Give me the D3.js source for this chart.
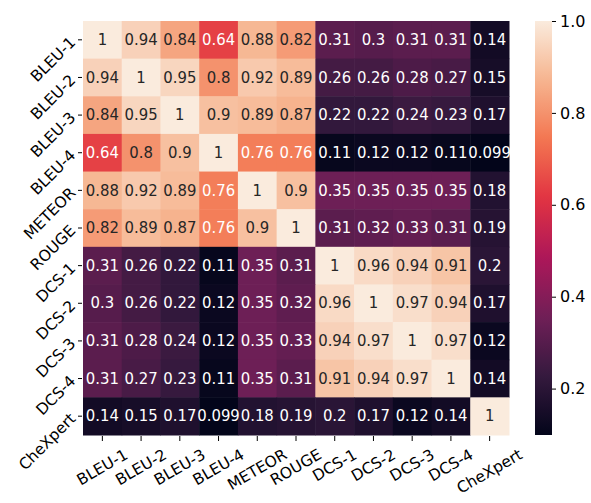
<!DOCTYPE html>
<html lang="en">
<head>
<meta charset="UTF-8">
<title>Metric correlation heatmap</title>
<script src="https://d3js.org/d3.v7.min.js"></script>
<style>
  body { margin: 0; background: #fff; }
  svg { font-family: "DejaVu Sans", sans-serif; }
</style>
</head>
<body>
<div id="chart"></div>
<script>
// metric names (rows and columns)
const metrics = ["BLEU-1", "BLEU-2", "BLEU-3", "BLEU-4", "METEOR", "ROUGE",
                 "DCS-1", "DCS-2", "DCS-3", "DCS-4", "CheXpert"];

// correlation values, one row per metric
const rowBleu1   = [1, 0.94, 0.84, 0.64, 0.88, 0.82, 0.31, 0.3, 0.31, 0.31, 0.14];
const rowBleu2   = [0.94, 1, 0.95, 0.8, 0.92, 0.89, 0.26, 0.26, 0.28, 0.27, 0.15];
const rowBleu3   = [0.84, 0.95, 1, 0.9, 0.89, 0.87, 0.22, 0.22, 0.24, 0.23, 0.17];
const rowBleu4   = [0.64, 0.8, 0.9, 1, 0.76, 0.76, 0.11, 0.12, 0.12, 0.11, 0.099];
const rowMeteor  = [0.88, 0.92, 0.89, 0.76, 1, 0.9, 0.35, 0.35, 0.35, 0.35, 0.18];
const rowRouge   = [0.82, 0.89, 0.87, 0.76, 0.9, 1, 0.31, 0.32, 0.33, 0.31, 0.19];
const rowDcs1    = [0.31, 0.26, 0.22, 0.11, 0.35, 0.31, 1, 0.96, 0.94, 0.91, 0.2];
const rowDcs2    = [0.3, 0.26, 0.22, 0.12, 0.35, 0.32, 0.96, 1, 0.97, 0.94, 0.17];
const rowDcs3    = [0.31, 0.28, 0.24, 0.12, 0.35, 0.33, 0.94, 0.97, 1, 0.97, 0.12];
const rowDcs4    = [0.31, 0.27, 0.23, 0.11, 0.35, 0.31, 0.91, 0.94, 0.97, 1, 0.14];
const rowChexpert = [0.14, 0.15, 0.17, 0.099, 0.18, 0.19, 0.2, 0.17, 0.12, 0.14, 1];

const colorbarTicks = [0.2, 0.4, 0.6, 0.8, 1.0];

const rows = [rowBleu1, rowBleu2, rowBleu3, rowBleu4, rowMeteor, rowRouge,
              rowDcs1, rowDcs2, rowDcs3, rowDcs4, rowChexpert];

const width = 591, height = 503;
const hm = { left: 83, right: 509, top: 21, bottom: 435 };
const cb = { x: 535, w: 17 };
const fontSize = 15.5;
const annotSize = 16;

// seaborn "rocket" approximated by stops
const rocketStops = ["#03051a", "#35193e", "#701f57", "#ad1759", "#e13342", "#f37651", "#f6b48f", "#faebdd"];
const rocket = d3.scaleLinear()
    .domain(rocketStops.map((c, i) => i === 0 ? 0 : i === 7 ? 1 : i / 7))
    .range(rocketStops)
    .interpolate(d3.interpolateRgb);

const allVals = rows.flat();
const vmin = d3.min(allVals), vmax = d3.max(allVals);
const color = v => rocket((v - vmin) / (vmax - vmin));

function luminance(c) {
    const rgb = d3.rgb(c);
    const lin = u => { u /= 255; return u <= 0.03928 ? u / 12.92 : Math.pow((u + 0.055) / 1.055, 2.4); };
    return 0.2126 * lin(rgb.r) + 0.7152 * lin(rgb.g) + 0.0722 * lin(rgb.b);
}

const x = d3.scaleBand().domain(metrics).range([hm.left, hm.right]);
const y = d3.scaleBand().domain(metrics).range([hm.top, hm.bottom]);

const svg = d3.select("#chart").append("svg")
    .attr("width", width)
    .attr("height", height);

const cells = [];
rows.forEach((r, i) => r.forEach((v, j) => cells.push({ row: metrics[i], col: metrics[j], v })));

svg.append("g").selectAll("rect")
    .data(cells)
    .join("rect")
    .attr("x", d => x(d.col))
    .attr("y", d => y(d.row))
    .attr("width", x.bandwidth() + 0.5)
    .attr("height", y.bandwidth() + 0.5)
    .attr("fill", d => color(d.v));

// annotations (slightly narrow, like the reference)
svg.append("g").selectAll("text")
    .data(cells)
    .join("text")
    .attr("transform", d => `translate(${x(d.col) + x.bandwidth() / 2},${y(d.row) + y.bandwidth() / 2}) scale(0.93,1)`)
    .attr("text-anchor", "middle")
    .attr("dominant-baseline", "central")
    .attr("font-size", annotSize)
    .attr("fill", d => luminance(color(d.v)) > 0.408 ? "#262626" : "#ffffff")
    .text(d => String(d.v));

// y axis: ticks + rotated labels
const yAxis = svg.append("g");
yAxis.selectAll("line")
    .data(metrics)
    .join("line")
    .attr("x1", hm.left - 5).attr("x2", hm.left - 1)
    .attr("y1", d => y(d) + y.bandwidth() / 2)
    .attr("y2", d => y(d) + y.bandwidth() / 2)
    .attr("stroke", "#000").attr("stroke-width", 1);
yAxis.selectAll("text")
    .data(metrics)
    .join("text")
    .attr("transform", d => `translate(${hm.left - 10},${y(d) + y.bandwidth() / 2}) rotate(-45)`)
    .attr("text-anchor", "end")
    .attr("dominant-baseline", "central")
    .attr("font-size", fontSize)
    .attr("fill", "#000")
    .text(d => d);

// x axis: ticks + labels rotated 30, bbox top aligned under ticks
const xAxis = svg.append("g");
xAxis.selectAll("line")
    .data(metrics)
    .join("line")
    .attr("x1", d => x(d) + x.bandwidth() / 2)
    .attr("x2", d => x(d) + x.bandwidth() / 2)
    .attr("y1", hm.bottom + 1).attr("y2", hm.bottom + 6)
    .attr("stroke", "#000").attr("stroke-width", 1);
xAxis.selectAll("text")
    .data(metrics)
    .join("text")
    .attr("text-anchor", "middle")
    .attr("dominant-baseline", "central")
    .attr("font-size", fontSize)
    .attr("fill", "#000")
    .text(d => d)
    .each(function(d) {
        const w = this.getComputedTextLength();
        const h = w * Math.sin(Math.PI / 6) + fontSize * 1.1 * Math.cos(Math.PI / 6);
        const cx = x(d) + x.bandwidth() / 2;
        const cy = hm.bottom + 11 + h / 2;
        d3.select(this).attr("transform", `translate(${cx},${cy}) rotate(-30)`);
    });

// colorbar
const cbScale = d3.scaleLinear().domain([vmin, vmax]).range([hm.bottom, hm.top]);
const defs = svg.append("defs");
const grad = defs.append("linearGradient")
    .attr("id", "cbgrad")
    .attr("x1", 0).attr("y1", 1).attr("x2", 0).attr("y2", 0);
d3.range(0, 1.0001, 0.02).forEach(t => {
    grad.append("stop").attr("offset", t).attr("stop-color", rocket(t));
});
svg.append("rect")
    .attr("x", cb.x).attr("y", hm.top)
    .attr("width", cb.w).attr("height", hm.bottom - hm.top)
    .attr("fill", "url(#cbgrad)");

const cbAxis = svg.append("g")
    .attr("transform", `translate(${cb.x + cb.w},0)`)
    .call(d3.axisRight(cbScale).tickValues(colorbarTicks).tickFormat(d3.format(".1f")).tickSize(4).tickPadding(4));
cbAxis.select(".domain").remove();
cbAxis.selectAll("text")
    .attr("font-size", annotSize)
    .attr("font-family", "DejaVu Sans")
    .attr("fill", "#000");
</script>
</body>
</html>
